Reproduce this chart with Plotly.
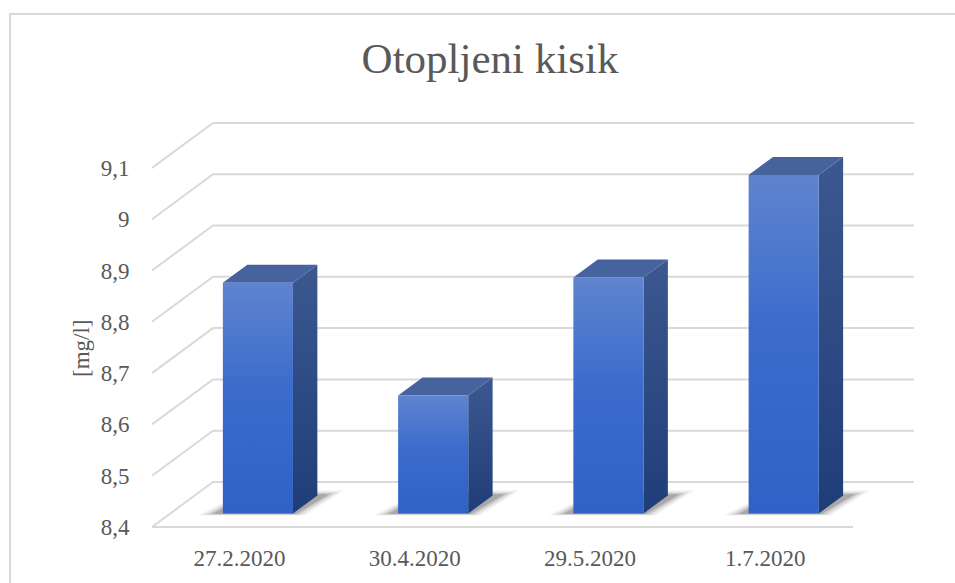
import plotly.graph_objects as go

# ---------------- data ----------------
categories = ["27.2.2020", "30.4.2020", "29.5.2020", "1.7.2020"]
values = [8.85, 8.63, 8.86, 9.06]
y_ticks = [8.4, 8.5, 8.6, 8.7, 8.8, 8.9, 9.0, 9.1]
y_ticktext = ["8,4", "8,5", "8,6", "8,7", "8,8", "8,9", "9", "9,1"]
title_text = "Otopljeni kisik"
y_title = "[mg/l]"

# ---------------- geometry / style constants ----------------
W, H = 955, 583
PX0, PXW = 152.0, 175.25       # pixel of x=0 on front plane, pixels per category
PY0, PYU = 527.0, 513.0        # pixel of y=8.4 on front plane, pixels per 1.0
DX = 61.0 / PXW                # depth shift (x units)
DY = 45.0 / PYU                # depth shift (y units)
BAR_W = 0.4
F_FRONT, F_BACK = 0.30, 0.70   # bar front/back depth fractions
YMIN = y_ticks[0]

L, R, T, B = 145, 920, 110, 531  # plot area in pixels
x_range = [(L - PX0) / PXW, (R - PX0) / PXW]
y_range = [YMIN + (PY0 - B) / PYU, YMIN + (PY0 - T) / PYU]

GRID = "#d9d9d9"
TXT = "#595959"
FONT = "Liberation Serif, Times New Roman, serif"

fig = go.Figure()

# gridlines (side wall + back wall) and floor
for v in y_ticks:
    xs = [0, DX, len(categories) + DX]
    ys = [v, v + DY, v + DY]
    if v == YMIN:
        xs = [len(categories), 0] + xs
        ys = [YMIN, YMIN] + ys
    fig.add_trace(go.Scatter(x=xs, y=ys, mode="lines",
                             line=dict(color=GRID, width=2),
                             hoverinfo="skip", showlegend=False))

def poly(xs, ys, **kw):
    fig.add_trace(go.Scatter(x=xs + [xs[0]], y=ys + [ys[0]], mode="lines",
                             fill="toself", line=dict(width=0),
                             hoverinfo="skip", showlegend=False, **kw))

# bars
for i, (cat, v) in enumerate(zip(categories, values)):
    c = i + 0.5
    fdx, fdy = F_FRONT * DX, F_FRONT * DY
    bdx, bdy = F_BACK * DX, F_BACK * DY
    xl = c - BAR_W / 2 + fdx
    xr = c + BAR_W / 2 + fdx
    b0 = YMIN + fdy
    t0 = v + fdy
    ddx, ddy = bdx - fdx, bdy - fdy

    # soft shadow on the floor (layered to fake a blur)
    for k, a in [(4, 0.05), (3, 0.07), (2, 0.10), (1, 0.16)]:
        ex = 0.028 * k
        ey = 0.0025 * k
        poly([xl - 0.03 - ex, xr + ex * 0.6, xr + ddx + 0.04 + ex, xl + ddx],
             [b0 - ey * 0.4, b0 - ey * 0.4, b0 + ddy + ey, b0 + ddy + ey],
             fillcolor=f"rgba(0,0,0,{a})")

    # side face
    poly([xr, xr + ddx, xr + ddx, xr], [b0, b0 + ddy, t0 + ddy, t0],
         fillcolor="#2c4a86",
         fillgradient=dict(type="vertical",
                           colorscale=[[0, "#1f3d78"], [1, "#3c5890"]]))
    # top face
    poly([xl, xr, xr + ddx, xl + ddx], [t0, t0, t0 + ddy, t0 + ddy],
         fillcolor="#46639e")
    # front face
    poly([xl, xr, xr, xl], [b0, b0, t0, t0],
         fillcolor="#4474cc",
         fillgradient=dict(type="vertical",
                           colorscale=[[0, "#2f62c6"], [0.55, "#3b6ccc"], [1, "#5f84cf"]]))

def px_to_paper_x(px):
    return (px - L) / (R - L)

def py_to_paper_y(py):
    return (B - py) / (B - T)

fig.update_layout(
    width=W, height=H,
    margin=dict(l=L, r=W - R, t=T, b=H - B, pad=0, autoexpand=False),
    paper_bgcolor="white", plot_bgcolor="white",
    showlegend=False,
    font=dict(family=FONT, color=TXT),
    title=dict(text=title_text, x=490 / W, xanchor="center",
               y=1 - 58 / H, yanchor="middle",
               font=dict(family=FONT, size=43, color=TXT)),
    xaxis=dict(range=x_range, tickvals=[i + 0.5 for i in range(len(categories))],
               ticktext=categories, showgrid=False, zeroline=False, showline=False,
               ticks="outside", ticklen=6, tickcolor="rgba(0,0,0,0)", automargin=False,
               tickfont=dict(family=FONT, size=23, color=TXT), fixedrange=True),
    yaxis=dict(range=y_range, tickvals=y_ticks, ticktext=y_ticktext,
               showgrid=False, zeroline=False, showline=False, automargin=False,
               ticks="outside", ticklen=10, tickcolor="rgba(0,0,0,0)",
               tickfont=dict(family=FONT, size=23, color=TXT), fixedrange=True),
    annotations=[dict(text=y_title, textangle=-90, showarrow=False,
                      xref="paper", yref="paper",
                      x=px_to_paper_x(81), y=py_to_paper_y(348),
                      xanchor="center", yanchor="middle",
                      font=dict(family=FONT, size=23, color=TXT))],
    shapes=[dict(type="rect", xref="paper", yref="paper",
                 x0=px_to_paper_x(10), x1=px_to_paper_x(W + 20),
                 y0=py_to_paper_y(H + 20), y1=py_to_paper_y(14),
                 line=dict(color="#d9d9d9", width=2), fillcolor="rgba(0,0,0,0)",
                 layer="below")],
)

fig.write_html("out.html", config={"displayModeBar": False},
               post_script="document.body.style.margin='0';")
